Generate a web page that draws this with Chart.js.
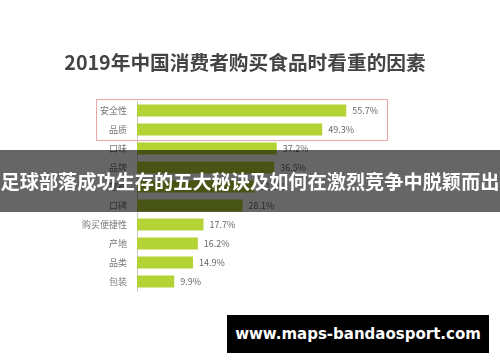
<!DOCTYPE html>
<html>
<head>
<meta charset="utf-8">
<script src="https://cdn.jsdelivr.net/npm/chart.js@4.4.0/dist/chart.umd.min.js"></script>
<style>
  html, body { margin: 0; padding: 0; background: #fff; }
  #wrap { position: relative; width: 500px; height: 362px; overflow: hidden; }
  #myChart { position: absolute; left: 0; top: 0; }
  .title { position: absolute; left: 0; top: 49px; width: 490px; text-align: center;
    font: bold 19.7px "Noto Sans CJK SC", sans-serif; color: #444; line-height: 26px; }
  .redbox { position: absolute; left: 96px; top: 99px; width: 292px; height: 42px;
    border: 1.5px solid #eaa6a8; box-sizing: border-box; }
  .banner { position: absolute; left: 0; top: 150px; width: 500px; height: 62px;
    background: rgba(0, 0, 0, 0.6); color: #fff; text-align: center;
    font: bold 19.2px "Noto Sans CJK SC", sans-serif; line-height: 62px; white-space: nowrap; }
  .mark { position: absolute; left: 227px; top: 315px; width: 262px; height: 38px;
    background: #000; color: #fff; text-align: center;
    font: bold 15px "DejaVu Sans", sans-serif; line-height: 38px; }
</style>
</head>
<body>
<div id="wrap">
  <canvas id="myChart" width="500" height="362"></canvas>
  <div class="title">2019年中国消费者购买食品时看重的因素</div>
  <div class="redbox"></div>
  <div class="banner">足球部落成功生存的五大秘诀及如何在激烈竞争中脱颖而出</div>
  <div class="mark">www.maps-bandaosport.com</div>
</div>
<script>
// 카테고리 / 값
const categories = ["安全性", "品质", "口味", "品牌", "营养", "口碑", "购买便捷性", "产地", "品类", "包装"];
const values = [55.7, 49.3, 37.2, 36.5, 31.2, 28.1, 17.7, 16.2, 14.9, 9.9];

// 막대 끝에 % 라벨 그리기
const valueLabels = {
    id: "valueLabels",
    afterDatasetsDraw: function (chart) {
        const ctx = chart.ctx;
        const meta = chart.getDatasetMeta(0);
        ctx.save();
        ctx.font = "9px 'Noto Sans CJK SC', sans-serif";
        ctx.fillStyle = "#666";
        ctx.textAlign = "left";
        ctx.textBaseline = "middle";
        meta.data.forEach(function (bar, i) {
            ctx.fillText(values[i].toFixed(1) + "%", bar.x + 6, bar.y);
        });
        ctx.restore();
    }
};

new Chart(document.getElementById("myChart"), {
    type: "bar",
    data: {
        labels: categories,
        datasets: [{
            data: values,
            backgroundColor: "#b4d334",
            barPercentage: 0.7,
            categoryPercentage: 0.9
        }]
    },
    options: {
        indexAxis: "y",
        responsive: false,
        animation: false,
        layout: { padding: { top: 101, bottom: 71, right: 100, left: 0 } },
        plugins: {
            legend: { display: false },
            tooltip: { enabled: false }
        },
        scales: {
            x: { display: false, min: 0, max: 70 },
            y: {
                afterFit: function (scale) { scale.width = 137; },
                grid: { display: false },
                border: { display: true, color: "#c8c8c8", width: 1 },
                ticks: {
                    padding: 2,
                    color: "#777",
                    font: { size: 9, family: "'Noto Sans CJK SC', sans-serif" }
                }
            }
        }
    },
    plugins: [valueLabels]
});
</script>
</body>
</html>
